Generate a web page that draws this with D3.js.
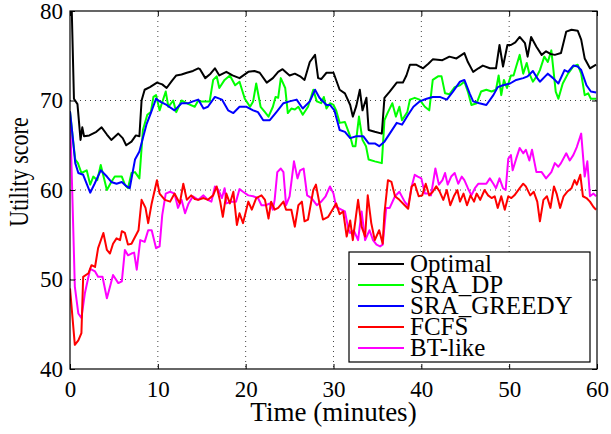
<!DOCTYPE html>
<html>
<head>
<meta charset="utf-8">
<script src="https://cdn.jsdelivr.net/npm/d3@7"></script>
<style>
  body { margin: 0; background: #fff; }
  text { font-family: "Liberation Serif", "Times New Roman", "DejaVu Serif", serif; }
</style>
</head>
<body>
<div id="chart"></div>
<script>
// [time (minutes), utility score]
const optimal = [[0,88],[0.45,70.2],[0.85,69.6],[1.2,65.6],[1.4,67],[1.6,66],[2.2,66.1],[3,66.5],[3.6,67],[4.2,66.2],[4.7,65.6],[5.5,66.3],[6,65.8],[6.4,65],[7,65.4],[7.5,66.1],[7.9,66],[8.15,70],[8.5,71.2],[9.1,71.5],[9.9,72],[10.5,71.8],[11,71.4],[11.6,72.2],[12.1,72.8],[12.7,72.9],[13.3,73.1],[14,73.3],[14.6,73.6],[14.8,73.5],[15.4,72.5],[16,73],[16.5,73.6],[17,72.8],[17.8,73.2],[18.5,72.8],[19.3,72.5],[20.3,73.2],[21,73.3],[21.6,73.1],[22.4,72],[23.1,72.5],[23.7,73.2],[24.2,73.5],[25,72.8],[25.6,73],[26.2,72.7],[26.7,72.3],[27.3,74.3],[27.9,75.1],[28.25,72.5],[28.6,72.4],[29.2,73.1],[30,73.1],[30.7,71.2],[31.3,70.8],[31.9,69.5],[32.2,68.2],[32.6,69.4],[33,71.2],[33.3,68.9],[33.75,70.3],[34,66.7],[34.7,66.5],[35.5,66.3],[35.8,70.3],[36.4,71],[37.2,72],[37.9,72],[38.3,72.8],[38.7,74],[39.4,74],[40.2,73.6],[40.8,74.1],[41.3,74.6],[42.4,74.5],[43.2,74.9],[44,74.7],[44.9,75.3],[45.3,74.3],[45.9,73.2],[46.5,73.6],[47,73.9],[47.8,73.6],[48.5,73.6],[48.9,76.2],[49.3,73.8],[49.8,76.2],[50.2,76.2],[50.7,76.5],[51.2,77.1],[51.8,76.4],[52.1,74.9],[52.5,77.1],[53.1,76],[53.7,75.1],[54.2,75.5],[54.7,75.2],[55.2,75.1],[55.9,75.3],[56.5,77.7],[57.1,77.9],[57.8,77.8],[58.2,76.8],[58.6,74.7],[59.2,73.6],[59.9,74]];

const sraDp = [[0,68.8],[0.3,66],[0.6,63.4],[0.9,63],[1.3,61.9],[1.9,62.2],[2.3,60.6],[2.65,61.5],[3.1,61.1],[3.5,62.8],[4.2,60],[4.7,60.9],[5.1,61.5],[5.9,61.5],[6.25,60.6],[6.6,60.2],[7,61.9],[7.4,62],[7.9,61.3],[8.3,66.7],[8.8,68.4],[9.2,68.7],[9.5,70.4],[9.8,70.6],[10.2,68.9],[10.9,71],[11.2,69.3],[11.75,70],[12.1,68.7],[12.7,70],[13.5,69.6],[14.2,69.3],[14.6,70],[14.8,69.9],[15.9,69.9],[16.3,72.3],[16.7,72.7],[17,71.4],[17.6,72.3],[18.2,72.8],[18.8,71.7],[19.3,72.1],[19.9,70.2],[20.5,69.3],[20.85,69.9],[21.2,71.9],[21.7,69.3],[22.2,68.7],[22.6,68.2],[23.1,69.3],[23.4,70.4],[23.7,70.3],[24,72.5],[24.5,71.4],[24.8,68.6],[25.2,69.1],[25.6,69],[26,69.3],[26.5,68.4],[27.1,69.3],[27.7,71.2],[28.1,69.9],[28.6,69.7],[28.9,70.4],[29.2,69.1],[29.6,69.7],[30,69.5],[30.3,68.9],[30.7,67.5],[31.3,67.6],[31.9,66],[32.2,64.9],[32.5,64.9],[32.9,68.2],[33.3,65.6],[33.7,64.9],[34,63.4],[34.7,63.2],[35.5,63],[35.8,67.8],[36.2,68.7],[36.7,69.7],[37.1,68.2],[37.5,69.3],[37.8,67.8],[38.4,68.7],[38.7,70.1],[39.25,70.3],[39.8,70.1],[40.4,69.3],[40.9,68.9],[41.3,72.3],[41.9,72.7],[42.3,72.7],[42.7,70.8],[43.2,70.7],[43.8,71.5],[44.4,71.7],[44.9,72.1],[45.3,71],[45.7,69.5],[46.3,69.7],[46.8,71],[47.4,71.2],[48,71],[48.5,71.2],[48.8,72.8],[49.1,70.6],[49.4,72.3],[49.75,71.4],[50.2,72.8],[50.5,72.8],[50.8,73.8],[51.2,75.1],[51.6,73],[52,74.2],[52.3,73],[52.7,72.1],[53.2,72.8],[53.5,73.4],[54,74.9],[54.4,74.3],[54.8,75.6],[55.3,71],[55.6,70.2],[56.1,71.9],[56.7,73],[57.3,73.8],[57.8,74],[58.2,73],[58.6,70.6],[59,70.8],[59.3,70.2],[59.9,70.2]];

const sraGreedy = [[0,68.8],[0.3,66],[0.6,63],[0.95,61.9],[1.5,61.7],[2.3,59.7],[2.8,60.7],[3.5,62.2],[4.2,61.5],[4.7,60.9],[5.3,60.7],[5.9,60.9],[6.45,60.4],[6.8,60.2],[7.4,63.4],[7.9,64.3],[8.3,65.8],[8.7,67.3],[9.2,68.6],[9.8,70.2],[10.2,69.9],[11,69.5],[11.9,68.9],[12.7,69.7],[13.5,69.7],[14,69.9],[14.6,70.1],[15.2,69.1],[15.7,69.3],[16.5,70.4],[17.3,70.1],[18,68.9],[18.6,68.6],[19.3,69.3],[20.1,69.3],[20.85,68.9],[21.4,68.7],[22,67.8],[22.75,67.8],[23.5,68.7],[24.3,69.7],[25,69.9],[25.8,70.1],[26.5,69.1],[27.3,69.9],[27.9,71.2],[28.4,70.3],[29.2,69.5],[29.6,69.5],[30.1,68.9],[30.7,66.7],[31.3,66.5],[31.9,65.8],[32.6,66],[33.4,66],[34,65.2],[34.7,65.2],[35.2,64.9],[35.8,65.4],[36.4,66.3],[37.2,67.5],[37.8,67.3],[38.5,68.4],[39.1,69.3],[39.8,69.9],[40.6,70.2],[41.3,70.4],[42.1,70.4],[42.9,70.1],[43.6,71],[44.4,72.1],[44.9,72.3],[45.5,70.8],[45.9,69.9],[46.6,69.7],[47.4,69.5],[48.2,70.6],[48.7,71.5],[49.3,71.7],[50.1,71.9],[50.8,72.3],[51.6,72.5],[52.1,72.7],[52.7,73.3],[53.2,72.5],[53.5,72.1],[54.4,73],[55,72.5],[55.6,71.9],[56.3,73.4],[56.7,73.2],[57.3,73.9],[57.8,73.8],[58.2,73.4],[58.8,71.7],[59.3,71],[59.9,70.9]];

const fcfs = [[0,49],[0.55,42.7],[0.95,43.2],[1.3,44],[1.5,50.3],[2.1,50.7],[2.45,51.6],[2.85,51.4],[3.2,53.5],[3.8,55.2],[4.2,53.3],[4.55,52.9],[4.9,54],[5.3,54.6],[5.7,54.4],[5.9,55.4],[6.25,55.2],[6.6,53.9],[7,54],[7.8,55.5],[8.15,58.9],[8.6,58],[8.9,56.3],[9.3,58.5],[9.9,61.1],[10.2,59.6],[10.8,58.9],[11.4,58.7],[11.9,59.6],[12.5,58.5],[12.9,60.7],[13.3,58.9],[13.8,59.4],[14.2,59],[14.6,58.9],[15.2,59.1],[15.7,58.9],[16.3,59.4],[16.7,60.4],[17.1,58.7],[17.4,57],[17.8,59.6],[18.2,58.5],[18.6,59.8],[19,56.1],[19.3,57.4],[19.7,56.3],[20.3,58.7],[20.7,57.8],[21.2,59.1],[21.8,59.4],[22.2,58.9],[22.6,56.8],[22.9,58.7],[23.3,57.8],[23.7,58],[24.3,58.7],[24.6,57.8],[25.2,57.8],[25.6,55.9],[26,58.3],[26.4,58.7],[26.7,56.5],[27.1,56.7],[27.7,60],[28,60.6],[28.4,58.5],[28.8,56.7],[29.4,57],[30,58],[30.3,58.5],[30.7,57.3],[31.1,57.6],[31.5,54.8],[31.9,56.6],[32.2,54.4],[32.8,58.9],[33.2,55.9],[33.6,54.8],[33.9,59.4],[34.3,56.3],[34.7,54.4],[35.2,55.5],[35.6,54],[35.8,57.4],[36.2,61.1],[36.6,60.9],[37,59.3],[37.5,58.9],[38.1,58.3],[38.5,57.9],[38.9,60.4],[39.25,60.7],[39.7,59.3],[40.1,59.4],[40.5,60.7],[40.9,59.4],[41.3,59.8],[41.7,60.4],[42.1,59.8],[42.5,58.9],[42.9,60],[43.3,58.3],[43.7,59.3],[44.1,60],[44.4,58.7],[44.8,59.6],[45.2,58.3],[45.6,59.4],[46,58.7],[46.3,59.6],[46.7,58.9],[47.2,60],[47.6,59.4],[48,59.1],[48.35,59.3],[48.7,58],[49.1,59.3],[49.5,57.8],[49.9,59.3],[50.25,59.1],[50.6,59.4],[51.2,60.2],[51.6,60.7],[51.9,60.4],[52.4,59.4],[52.8,59.8],[53.2,58.7],[53.5,56.5],[53.9,58.9],[54.3,59.3],[54.7,58],[55.1,60.4],[55.4,59.6],[55.8,58],[56.2,59.3],[56.6,59.8],[57.1,60.2],[57.45,61.1],[57.7,60.6],[58.1,61.7],[58.4,59.3],[58.8,59.1],[59.2,58.7],[59.6,58.1],[59.9,57.8]];

const btLike = [[0,68.6],[0.25,60],[0.55,49.2],[0.95,46.2],[1.3,45.7],[1.7,48.5],[2.3,51.2],[2.85,50.9],[3.2,50.3],[3.7,50.3],[4.2,47.9],[4.55,49.2],[4.9,50.5],[5.5,49.6],[5.9,49.8],[6.25,53.3],[6.6,52.7],[7,52.9],[7.3,53],[7.6,51.1],[8,54.4],[8.5,54.2],[8.9,55.5],[9.3,55.5],[9.8,53.5],[10.2,53.7],[10.5,57.2],[10.9,59.6],[11.4,59.8],[11.9,59.6],[12.3,58],[12.7,58.9],[13.1,57.4],[13.5,58.5],[14,59.3],[14.6,58.9],[15.2,59.4],[15.7,58.9],[16.1,58.7],[16.5,60.4],[16.9,60],[17.3,59.1],[17.6,60.2],[17.8,58.5],[18.4,58.7],[18.9,58.7],[19.3,60.1],[19.7,59.8],[20.3,59.4],[20.85,59.3],[21.4,59.1],[21.8,58.3],[22.3,58.3],[22.75,58.5],[23.1,57.8],[23.3,58.9],[23.6,62],[24,62.4],[24.3,62],[24.6,58.3],[25,59.3],[25.5,63.2],[25.9,61.3],[26.2,62.2],[26.6,62.4],[27,59.4],[27.5,59.1],[28.1,58.3],[28.6,58.7],[29.1,59.3],[29.6,60.4],[30,59.6],[30.3,58.1],[30.9,57.8],[31.3,57.6],[31.7,55.6],[31.9,55.2],[32.3,55.5],[32.8,54.4],[33.2,57.6],[33.6,54.4],[34.1,55.5],[34.5,54.4],[34.9,53.9],[35.3,53.7],[35.6,53.9],[36,58],[36.4,58],[37,59.3],[37.5,59.8],[38.1,58.7],[38.5,58.2],[38.9,60.4],[39.25,61.7],[39.6,61.5],[40,61.3],[40.4,59.6],[40.8,59.6],[41.1,59.4],[41.6,62.4],[42,60.6],[42.4,61.1],[42.7,61.9],[43,60.6],[43.4,61.5],[43.8,61.9],[44.2,60.7],[44.6,61.5],[44.9,61.1],[45.3,60.2],[45.7,59.4],[46.1,60.2],[46.5,60.7],[46.9,60.7],[47.4,60.7],[47.8,61.3],[48.2,60.7],[48.5,60.2],[48.9,61.3],[49.3,60.2],[49.6,60],[49.9,63.5],[50.2,63.9],[50.4,62.2],[50.8,63.5],[51.2,64.7],[51.6,64.1],[51.9,64.5],[52.3,63.3],[52.6,64.5],[53.1,62],[53.7,62],[54.2,61.3],[54.8,62],[55.2,63],[55.6,62.6],[55.9,63],[56.5,64.1],[56.9,63.3],[57.3,63.9],[57.7,64.8],[58.2,66.3],[58.6,61.5],[58.9,63.2],[59.2,59.3],[59.6,59.6],[59.9,59.3]];

const seriesNames = ["Optimal", "SRA_DP", "SRA_GREEDY", "FCFS", "BT-like"];
const seriesData = [optimal, sraDp, sraGreedy, fcfs, btLike];
const seriesColors = ["#000000", "#00ff00", "#0000ff", "#ff0000", "#ff00ff"];
// draw order: bottom to top
const drawOrder = [4, 3, 1, 2, 0];

const xTicks = [0, 10, 20, 30, 40, 50, 60];
const yTicks = [40, 50, 60, 70, 80];

const serif = '"Liberation Serif", "Times New Roman", "DejaVu Serif", serif';

const margin = { top: 11, right: 14, bottom: 65, left: 70 },
    width = 611 - margin.left - margin.right,
    height = 434 - margin.top - margin.bottom;

const svg = d3.select("#chart")
    .append("svg")
    .attr("width", 611)
    .attr("height", 434)
    .attr("font-family", serif);

const g = svg.append("g")
    .attr("transform", `translate(${margin.left},${margin.top})`);

const x = d3.scaleLinear().domain([0, 60]).range([0, width]);
const y = d3.scaleLinear().domain([40, 80]).range([height, 0]);

// dotted grid
g.append("g")
    .selectAll("line")
    .data(xTicks.slice(1, -1))
    .join("line")
    .attr("x1", d => x(d)).attr("x2", d => x(d))
    .attr("y1", 0).attr("y2", height)
    .attr("stroke", "#444")
    .attr("stroke-width", 1)
    .attr("stroke-dasharray", "1,4");

g.append("g")
    .selectAll("line")
    .data(yTicks.slice(1, -1))
    .join("line")
    .attr("x1", 0).attr("x2", width)
    .attr("y1", d => y(d)).attr("y2", d => y(d))
    .attr("stroke", "#444")
    .attr("stroke-width", 1)
    .attr("stroke-dasharray", "1,4");

svg.append("clipPath")
    .attr("id", "plotClip")
    .append("rect")
    .attr("width", width)
    .attr("height", height);

const line = d3.line()
    .x(d => x(d[0]))
    .y(d => y(d[1]));

g.append("g")
    .attr("clip-path", "url(#plotClip)")
    .selectAll("path")
    .data(drawOrder)
    .join("path")
    .attr("d", i => line(seriesData[i]))
    .attr("fill", "none")
    .attr("stroke", i => seriesColors[i])
    .attr("stroke-width", 2)
    .attr("stroke-linejoin", "round");

// axes, ticks inside, box
const tickStyle = sel => {
    sel.attr("font-family", serif);
    sel.select(".domain").remove();
    sel.selectAll(".tick line").attr("stroke", "#000");
    sel.selectAll("text").style("font-size", "23px").attr("fill", "#000");
};

g.append("g")
    .attr("transform", `translate(0,${height})`)
    .call(d3.axisBottom(x).tickValues(xTicks).tickSize(-5).tickPadding(12))
    .call(tickStyle);

g.append("g")
    .call(d3.axisTop(x).tickValues(xTicks).tickSize(-5).tickFormat(""))
    .call(tickStyle);

g.append("g")
    .call(d3.axisLeft(y).tickValues(yTicks).tickSize(-5).tickPadding(7))
    .call(tickStyle);

g.append("g")
    .attr("transform", `translate(${width},0)`)
    .call(d3.axisRight(y).tickValues(yTicks).tickSize(-5).tickFormat(""))
    .call(tickStyle);

g.append("rect")
    .attr("width", width)
    .attr("height", height)
    .attr("fill", "none")
    .attr("stroke", "#000")
    .attr("stroke-width", 1.2);

// axis labels
svg.append("text")
    .attr("x", margin.left + width / 2)
    .attr("y", 421)
    .attr("text-anchor", "middle")
    .style("font-size", "27px")
    .text("Time (minutes)");

svg.append("text")
    .attr("transform", "translate(28,172) scale(1.2,1) rotate(-90)")
    .attr("text-anchor", "middle")
    .style("font-size", "22px")
    .text("Utility score");

// legend
const legend = svg.append("g").attr("transform", "translate(349,252)");

legend.append("rect")
    .attr("width", 241)
    .attr("height", 110)
    .attr("fill", "#fff")
    .attr("stroke", "#000")
    .attr("stroke-width", 1.2);

const rows = legend.selectAll(".row")
    .data(seriesNames)
    .join("g")
    .attr("class", "row")
    .attr("transform", (d, i) => `translate(0,${12 + i * 21})`);

rows.append("line")
    .attr("x1", 9).attr("x2", 55)
    .attr("stroke", (d, i) => seriesColors[i])
    .attr("stroke-width", 2);

rows.append("text")
    .attr("x", 61)
    .attr("y", 8)
    .style("font-size", "25px")
    .text(d => d);
</script>
</body>
</html>
